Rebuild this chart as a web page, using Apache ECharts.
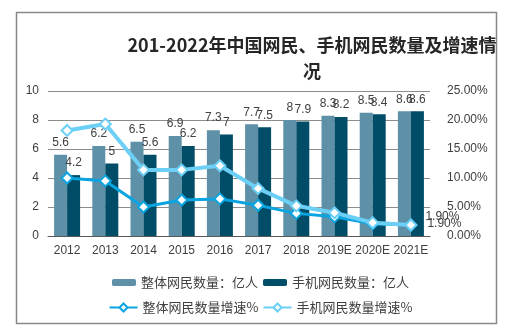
<!DOCTYPE html>
<html><head><meta charset="utf-8">
<script src="https://cdn.jsdelivr.net/npm/echarts@6/dist/echarts.min.js"></script>
<style>html,body{margin:0;padding:0;background:#fff}#c{width:521px;height:333px}</style>
</head><body><div id="c"></div>
<script>
const categories = ['2012','2013','2014','2015','2016','2017','2018','2019E','2020E','2021E'];
const totalUsers = [5.6,6.2,6.5,6.9,7.3,7.7,8,8.3,8.5,8.6];
const mobileUsers = [4.2,5,5.6,6.2,7,7.5,7.9,8.2,8.4,8.6];
const totalGrowth = [10.0,9.5,5.0,6.2,6.4,5.3,3.9,3.3,2.1,1.9];
const mobileGrowth = [18.2,19.3,11.4,11.4,12.1,8.2,5.2,4.0,2.3,1.9];
const leftTicks = {min:0,max:10,interval:2};
const rightTicks = {min:0,max:25,interval:5};

const font = '"Liberation Sans", "Noto Sans CJK SC", sans-serif';
const txt = '#404040';
const cTotal = '#5E91A8', cMobile = '#014D68', cLT = '#0AA5E0', cLM = '#6CCFF6';

function lineData(arr, lastLabel){
  return arr.map((v,i)=> i===arr.length-1 ? {value:v, label:lastLabel} : v);
}

const chart = echarts.init(document.getElementById('c'), null, {renderer:'canvas'});
chart.setOption({
  animation:false,
  textStyle:{fontFamily:font},
  graphic:[{type:'rect',shape:{x:16.5,y:12.5,width:480,height:311},style:{fill:'none',stroke:'#888',lineWidth:1.5},silent:true}],
  title:{text:'201-2022年中国网民、手机网民数量及增速情\n况',left:307,top:27,textAlign:'center',
    textStyle:{fontSize:18,fontWeight:'bold',color:'#262626',lineHeight:26,fontFamily:'"Noto Sans CJK SC", sans-serif'}},
  grid:{left:48,right:91,top:91,bottom:97},
  legend:[
    {data:['整体网民数量：亿人','手机网民数量：亿人'],top:271,left:'center',itemWidth:24,itemHeight:7,itemGap:5,
     textStyle:{fontSize:13,color:txt,fontFamily:'"Noto Sans CJK SC", sans-serif'}},
    {data:['整体网民数量增速%','手机网民数量增速%'],top:296,left:'center',itemWidth:28,itemHeight:10,itemGap:4,
     textStyle:{fontSize:13,color:txt,fontFamily:'"Noto Sans CJK SC", sans-serif'}}
  ],
  xAxis:{type:'category',data:categories,
    axisLine:{lineStyle:{color:'#595959',width:1}},axisTick:{show:false},
    axisLabel:{color:txt,fontSize:12,margin:9,interval:0}},
  yAxis:[
    {type:'value',min:leftTicks.min,max:leftTicks.max,interval:leftTicks.interval,
     axisLine:{show:false},axisTick:{show:false},axisLabel:{color:txt,fontSize:12,margin:9},
     splitLine:{lineStyle:{color:'#8c8c8c',width:1}}},
    {type:'value',min:rightTicks.min,max:rightTicks.max,interval:rightTicks.interval,
     axisLine:{show:false},axisTick:{show:false},splitLine:{show:false},
     axisLabel:{color:txt,fontSize:12,margin:17,formatter:v=>v.toFixed(2)+'%'}}
  ],
  series:[
    {name:'整体网民数量：亿人',type:'bar',data:totalUsers,barWidth:13,barGap:'0%',itemStyle:{color:cTotal},
     label:{show:true,position:'top',distance:6,color:txt,fontSize:12}},
    {name:'手机网民数量：亿人',type:'bar',data:mobileUsers,barWidth:13,barGap:'0%',itemStyle:{color:cMobile},
     label:{show:true,position:'top',distance:6,color:txt,fontSize:12}},
    {name:'整体网民数量增速%',type:'line',yAxisIndex:1,data:lineData(totalGrowth,{show:true,position:'right',distance:10,offset:[0,-1],formatter:'1.90%',color:txt,fontSize:12}),
     symbol:'diamond',symbolSize:11,showAllSymbol:true,lineStyle:{color:cLT,width:3},
     itemStyle:{color:'#fff',borderColor:cLT,borderWidth:2},z:3,label:{show:false}},
    {name:'手机网民数量增速%',type:'line',yAxisIndex:1,data:lineData(mobileGrowth,{show:true,position:'right',distance:8,offset:[0,-8],formatter:'1.90%',color:txt,fontSize:12}),
     symbol:'diamond',symbolSize:11,showAllSymbol:true,lineStyle:{color:cLM,width:4},
     itemStyle:{color:'#fff',borderColor:cLM,borderWidth:2},z:4,label:{show:false}}
  ]
});
</script></body></html>
